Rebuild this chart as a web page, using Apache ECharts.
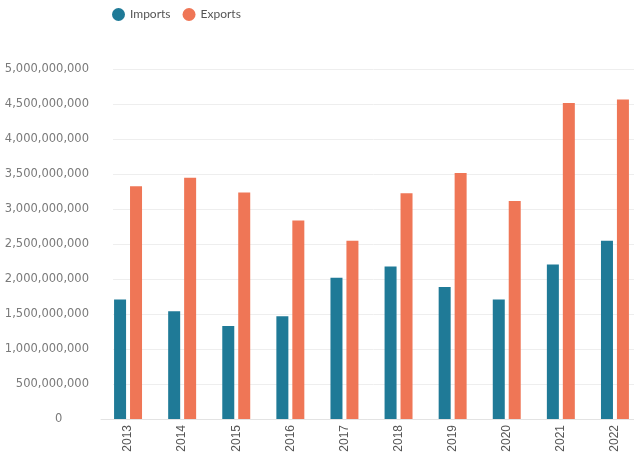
<!DOCTYPE html>
<html>
<head>
<meta charset="utf-8">
<script src="https://cdn.jsdelivr.net/npm/echarts@6/dist/echarts.min.js"></script>
<style>
  html, body { margin: 0; padding: 0; background: #ffffff; }
  #chart { width: 634px; height: 454px; }
</style>
</head>
<body>
<div id="chart"></div>
<script>
// Annual trade values (USD)
const years = ['2013', '2014', '2015', '2016', '2017', '2018', '2019', '2020', '2021', '2022'];
const imports = [1710000000, 1540000000, 1330000000, 1470000000, 2020000000, 2180000000, 1890000000, 1710000000, 2210000000, 2550000000];
const exports = [3330000000, 3450000000, 3240000000, 2840000000, 2550000000, 3230000000, 3520000000, 3120000000, 4520000000, 4570000000];

const yMin = 0;
const yMax = 5000000000;
const yStep = 500000000;

const chart = echarts.init(document.getElementById('chart'), null, { renderer: 'canvas' });

// thousands separators; the zero label sits further left in its own box
const fmt = v => (v === 0 ? '{z|0}' : Number(v).toLocaleString('en-US'));

chart.setOption({
  animation: false,
  color: ['#1f7a97', '#ef7656'],
  legend: {
    left: 107,
    top: 3,
    icon: 'circle',
    itemWidth: 13,
    itemHeight: 13,
    itemGap: 12,
    textStyle: { fontFamily: 'Lato', fontSize: 12, color: '#555' },
    data: ['Imports', 'Exports']
  },
  grid: [
    // bar area (runs slightly past the right edge)
    { left: 101, width: 541, top: 69.5, bottom: 35, containLabel: false, outerBoundsMode: 'none' },
    // value-axis labels and gridlines
    { left: 113, right: 0, top: 69.5, bottom: 35, containLabel: false, outerBoundsMode: 'none' }
  ],
  xAxis: [
    {
      type: 'category',
      gridIndex: 0,
      data: years,
      axisTick: { show: false },
      axisLine: { show: true, lineStyle: { color: '#e3e3e3', width: 1 } },
      axisLabel: {
        rotate: 90,
        margin: 6,
        fontFamily: 'Liberation Sans',
        fontSize: 12,
        color: '#555'
      }
    },
    { type: 'value', gridIndex: 1, show: false }
  ],
  yAxis: [
    {
      type: 'value',
      gridIndex: 0,
      min: yMin, max: yMax, interval: yStep,
      show: false,
      splitLine: { show: false }
    },
    {
      type: 'value',
      gridIndex: 1,
      min: yMin, max: yMax, interval: yStep,
      axisLine: { show: false },
      axisTick: { show: false },
      splitLine: { show: true, lineStyle: { color: '#eeeeee', width: 1 } },
      axisLabel: {
        margin: 24,
        fontFamily: 'DejaVu Sans',
        fontSize: 11.5,
        color: '#7a7a7a',
        formatter: fmt,
        rich: {
          z: {
            width: 34,
            align: 'left',
            fontFamily: 'DejaVu Sans',
            fontSize: 11.5,
            color: '#7a7a7a'
          }
        }
      }
    }
  ],
  series: [
    {
      name: 'Imports',
      type: 'bar',
      xAxisIndex: 0, yAxisIndex: 0,
      data: imports,
      barWidth: 12,
      barGap: '33%'
    },
    {
      name: 'Exports',
      type: 'bar',
      xAxisIndex: 0, yAxisIndex: 0,
      data: exports,
      barWidth: 12,
      barGap: '33%'
    }
  ]
});
</script>
</body>
</html>
